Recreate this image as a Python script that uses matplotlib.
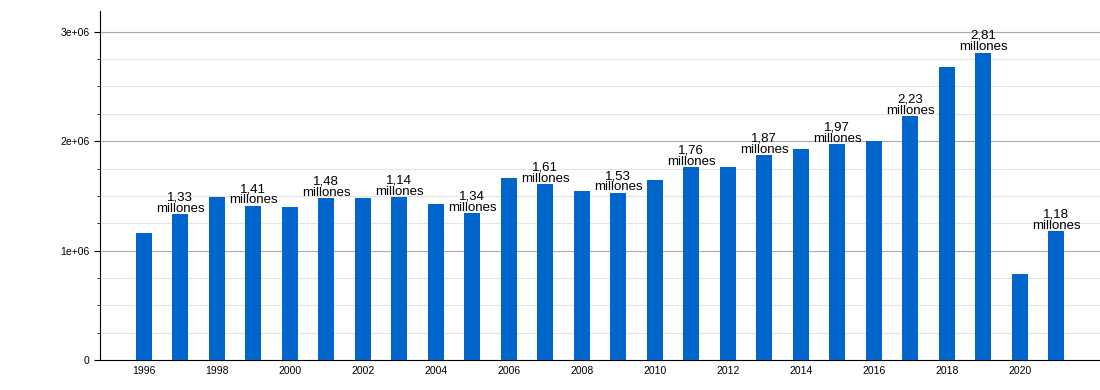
import matplotlib.pyplot as plt
from matplotlib.ticker import MultipleLocator, FuncFormatter

plt.rcParams['font.family'] = ['Liberation Sans', 'DejaVu Sans']

years = list(range(1996, 2022))
values = [1.16e6, 1.33e6, 1.49e6, 1.41e6, 1.40e6, 1.48e6, 1.48e6, 1.49e6, 1.43e6, 1.34e6,
          1.665e6, 1.61e6, 1.546e6, 1.53e6, 1.646e6, 1.765e6, 1.765e6, 1.875e6, 1.93e6, 1.97e6,
          2.00e6, 2.23e6, 2.68e6, 2.81e6, 0.787e6, 1.18e6]
label_years = [1997, 1999, 2001, 2003, 2005, 2007, 2009, 2011, 2013, 2015, 2017, 2019, 2021]
label_texts = ["1,33", "1,41", "1,48", "1,14", "1,34", "1,61", "1,53", "1,76", "1,87",
               "1,97", "2,23", "2,81", "1,18"]

fig = plt.figure(figsize=(11, 3.9), dpi=100)
ax = fig.add_axes([100 / 1100, 30 / 390, 1 - 100 / 1100, 349 / 390])

ax.bar(years, values, width=0.44, color='#0066cc', zorder=3)

for yr, txt in zip(label_years, label_texts):
    v = values[years.index(yr)]
    ax.annotate(f"{txt}\nmillones", (yr, v), xytext=(0, -0.5), textcoords='offset points',
                ha='center', va='bottom', fontsize=9.5, linespacing=0.92, zorder=4)

ax.set_xlim(1994.8, 2022.2)
ax.set_ylim(0, 3.19e6)
ax.yaxis.set_major_locator(MultipleLocator(1e6))
ax.yaxis.set_minor_locator(MultipleLocator(0.25e6))
ax.yaxis.set_major_formatter(FuncFormatter(lambda v, p: "0" if v == 0 else f"{int(v / 1e6)}e+06"))
ax.set_xticks(range(1996, 2021, 2))
ax.tick_params(axis='x', length=0, labelsize=7.5, pad=4)
ax.tick_params(axis='y', which='major', length=4, labelsize=7.5)
ax.tick_params(axis='y', which='minor', length=2)

ax.grid(axis='y', which='major', color='#aaaaaa', linewidth=0.8, zorder=0)
ax.grid(axis='y', which='minor', color='#e4e4e4', linewidth=0.8, zorder=0)
for s in ['top', 'right']:
    ax.spines[s].set_visible(False)
ax.spines['left'].set_linewidth(0.8)
ax.spines['bottom'].set_linewidth(0.8)

fig.savefig("out.png", dpi=100)
